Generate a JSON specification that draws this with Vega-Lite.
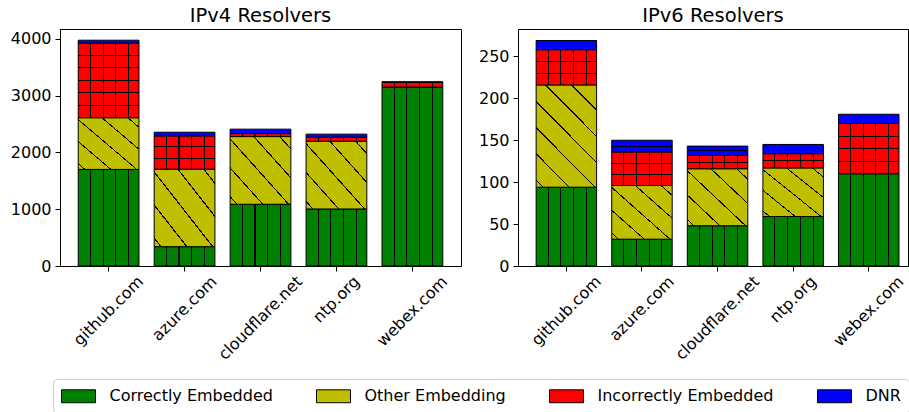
{
  "$schema": "https://vega.github.io/schema/vega-lite/v6.json",
  "background": "white",
  "padding": {"left": 9, "top": 5, "right": 0, "bottom": 0},
  "datasets": {
    "resolvers": [
      {"panel": "IPv4", "domain": "github.com", "category": "Correctly Embedded", "value": 1700},
      {"panel": "IPv4", "domain": "github.com", "category": "Other Embedding", "value": 910},
      {"panel": "IPv4", "domain": "github.com", "category": "Incorrectly Embedded", "value": 1315},
      {"panel": "IPv4", "domain": "github.com", "category": "DNR", "value": 50},
      {"panel": "IPv4", "domain": "azure.com", "category": "Correctly Embedded", "value": 340},
      {"panel": "IPv4", "domain": "azure.com", "category": "Other Embedding", "value": 1365},
      {"panel": "IPv4", "domain": "azure.com", "category": "Incorrectly Embedded", "value": 585},
      {"panel": "IPv4", "domain": "azure.com", "category": "DNR", "value": 65},
      {"panel": "IPv4", "domain": "cloudflare.net", "category": "Correctly Embedded", "value": 1087},
      {"panel": "IPv4", "domain": "cloudflare.net", "category": "Other Embedding", "value": 1191},
      {"panel": "IPv4", "domain": "cloudflare.net", "category": "Incorrectly Embedded", "value": 53},
      {"panel": "IPv4", "domain": "cloudflare.net", "category": "DNR", "value": 78},
      {"panel": "IPv4", "domain": "ntp.org", "category": "Correctly Embedded", "value": 1004},
      {"panel": "IPv4", "domain": "ntp.org", "category": "Other Embedding", "value": 1193},
      {"panel": "IPv4", "domain": "ntp.org", "category": "Incorrectly Embedded", "value": 71},
      {"panel": "IPv4", "domain": "ntp.org", "category": "DNR", "value": 53},
      {"panel": "IPv4", "domain": "webex.com", "category": "Correctly Embedded", "value": 3150},
      {"panel": "IPv4", "domain": "webex.com", "category": "Incorrectly Embedded", "value": 80},
      {"panel": "IPv4", "domain": "webex.com", "category": "DNR", "value": 15},
      {"panel": "IPv6", "domain": "github.com", "category": "Correctly Embedded", "value": 94},
      {"panel": "IPv6", "domain": "github.com", "category": "Other Embedding", "value": 122},
      {"panel": "IPv6", "domain": "github.com", "category": "Incorrectly Embedded", "value": 42},
      {"panel": "IPv6", "domain": "github.com", "category": "DNR", "value": 11},
      {"panel": "IPv6", "domain": "azure.com", "category": "Correctly Embedded", "value": 32},
      {"panel": "IPv6", "domain": "azure.com", "category": "Other Embedding", "value": 64},
      {"panel": "IPv6", "domain": "azure.com", "category": "Incorrectly Embedded", "value": 40},
      {"panel": "IPv6", "domain": "azure.com", "category": "DNR", "value": 14},
      {"panel": "IPv6", "domain": "cloudflare.net", "category": "Correctly Embedded", "value": 48},
      {"panel": "IPv6", "domain": "cloudflare.net", "category": "Other Embedding", "value": 68},
      {"panel": "IPv6", "domain": "cloudflare.net", "category": "Incorrectly Embedded", "value": 16},
      {"panel": "IPv6", "domain": "cloudflare.net", "category": "DNR", "value": 11},
      {"panel": "IPv6", "domain": "ntp.org", "category": "Correctly Embedded", "value": 59},
      {"panel": "IPv6", "domain": "ntp.org", "category": "Other Embedding", "value": 58},
      {"panel": "IPv6", "domain": "ntp.org", "category": "Incorrectly Embedded", "value": 17},
      {"panel": "IPv6", "domain": "ntp.org", "category": "DNR", "value": 11},
      {"panel": "IPv6", "domain": "webex.com", "category": "Correctly Embedded", "value": 110},
      {"panel": "IPv6", "domain": "webex.com", "category": "Incorrectly Embedded", "value": 60},
      {"panel": "IPv6", "domain": "webex.com", "category": "DNR", "value": 11}
    ],
    "ranks": [
      {"category": "Correctly Embedded", "rank": 1},
      {"category": "Other Embedding", "rank": 2},
      {"category": "Incorrectly Embedded", "rank": 3},
      {"category": "DNR", "rank": 4}
    ]
  },
  "data": {"name": "resolvers"},
  "transform": [
    {"lookup": "category", "from": {"data": {"name": "ranks"}, "key": "category", "fields": ["rank"]}}
  ],
  "bounds": "flush",
  "spacing": 57,
  "hconcat": [
    {
      "width": 401,
      "height": 237,
      "title": {"text": "IPv4 Resolvers"},
      "transform": [{"filter": "datum.panel === 'IPv4'"}],
      "encoding": {
        "x": {
          "field": "domain", "type": "nominal",
          "sort": ["github.com", "azure.com", "cloudflare.net", "ntp.org", "webex.com"],
          "scale": {"paddingInner": 0.2, "paddingOuter": 0.24},
          "axis": {
            "title": null, "labelAngle": -45, "labelAlign": "center", "labelBaseline": "middle",
            "tickSize": 5, "labelOverlap": false, "labelFlush": false,
            "labelPadding": {"condition": [
              {"test": "datum.value === 'github.com'", "value": 39.5},
              {"test": "datum.value === 'azure.com'", "value": 37.2},
              {"test": "datum.value === 'cloudflare.net'", "value": 46.7},
              {"test": "datum.value === 'ntp.org'", "value": 28}
            ], "value": 39.9}
          }
        },
        "y": {
          "field": "value", "type": "quantitative", "stack": "zero",
          "scale": {"domain": [0, 4172], "nice": false},
          "axis": {"title": null, "values": [0, 1000, 2000, 3000, 4000], "format": "d", "tickSize": 5, "labelPadding": 4}
        },
        "order": {"field": "rank", "type": "quantitative"}
      },
      "layer": [
        {
          "mark": {"type": "bar", "stroke": "black", "strokeWidth": 1},
          "encoding": {
            "fill": {
              "field": "category", "type": "nominal",
              "scale": {"domain": ["Correctly Embedded", "Other Embedding", "Incorrectly Embedded", "DNR"], "range": ["#008000", "#bfbf00", "#ff0000", "#0000ff"]},
              "legend": {"title": null, "orient": "none", "legendX": -7, "legendY": 350, "direction": "horizontal", "columns": 4, "columnPadding": 41, "symbolType": "M-2,-0.76H2V0.76H-2Z", "symbolSize": 289, "symbolOffset": 8.5, "symbolStrokeColor": "black", "symbolStrokeWidth": 1, "symbolOpacity": 1, "labelFontSize": 16, "labelFont": "DejaVu Sans", "labelColor": "black", "labelOffset": 22, "labelLimit": 300, "padding": 8, "strokeColor": "#cccccc", "fillColor": "white", "cornerRadius": 4},
              "condition": [
                {"test": "datum.category === 'Correctly Embedded'", "value": {"gradient": "linear", "x1": 0, "y1": 0, "x2": 1, "y2": 0, "stops": [{"offset": 0, "color": "#008000"}, {"offset": 0.19, "color": "#008000"}, {"offset": 0.19, "color": "#000000"}, {"offset": 0.208, "color": "#000000"}, {"offset": 0.208, "color": "#008000"}, {"offset": 0.4, "color": "#008000"}, {"offset": 0.4, "color": "#000000"}, {"offset": 0.418, "color": "#000000"}, {"offset": 0.418, "color": "#008000"}, {"offset": 0.61, "color": "#008000"}, {"offset": 0.61, "color": "#000000"}, {"offset": 0.628, "color": "#000000"}, {"offset": 0.628, "color": "#008000"}, {"offset": 0.82, "color": "#008000"}, {"offset": 0.82, "color": "#000000"}, {"offset": 0.838, "color": "#000000"}, {"offset": 0.838, "color": "#008000"}, {"offset": 1, "color": "#008000"}]}},
                {"test": "datum.category === 'Incorrectly Embedded'", "value": {"gradient": "linear", "x1": 0, "y1": 0, "x2": 1, "y2": 0, "stops": [{"offset": 0, "color": "#ff0000"}, {"offset": 0.19, "color": "#ff0000"}, {"offset": 0.19, "color": "#000000"}, {"offset": 0.208, "color": "#000000"}, {"offset": 0.208, "color": "#ff0000"}, {"offset": 0.4, "color": "#ff0000"}, {"offset": 0.4, "color": "#000000"}, {"offset": 0.418, "color": "#000000"}, {"offset": 0.418, "color": "#ff0000"}, {"offset": 0.61, "color": "#ff0000"}, {"offset": 0.61, "color": "#000000"}, {"offset": 0.628, "color": "#000000"}, {"offset": 0.628, "color": "#ff0000"}, {"offset": 0.82, "color": "#ff0000"}, {"offset": 0.82, "color": "#000000"}, {"offset": 0.838, "color": "#000000"}, {"offset": 0.838, "color": "#ff0000"}, {"offset": 1, "color": "#ff0000"}]}},
                {"test": "datum.category === 'Other Embedding'", "value": {"gradient": "linear", "x1": 0, "y1": 1, "x2": 1, "y2": 0, "stops": [{"offset": 0, "color": "#bfbf00"}, {"offset": 0.05, "color": "#bfbf00"}, {"offset": 0.05, "color": "#000000"}, {"offset": 0.062, "color": "#000000"}, {"offset": 0.062, "color": "#bfbf00"}, {"offset": 0.263, "color": "#bfbf00"}, {"offset": 0.263, "color": "#000000"}, {"offset": 0.275, "color": "#000000"}, {"offset": 0.275, "color": "#bfbf00"}, {"offset": 0.476, "color": "#bfbf00"}, {"offset": 0.476, "color": "#000000"}, {"offset": 0.488, "color": "#000000"}, {"offset": 0.488, "color": "#bfbf00"}, {"offset": 0.689, "color": "#bfbf00"}, {"offset": 0.689, "color": "#000000"}, {"offset": 0.701, "color": "#000000"}, {"offset": 0.701, "color": "#bfbf00"}, {"offset": 0.902, "color": "#bfbf00"}, {"offset": 0.902, "color": "#000000"}, {"offset": 0.914, "color": "#000000"}, {"offset": 0.914, "color": "#bfbf00"}, {"offset": 1, "color": "#bfbf00"}]}}
              ]
            }
          }
        },
        {
          "mark": {"type": "bar", "strokeWidth": 0},
          "encoding": {
            "detail": {"field": "category"},
            "fill": {
              "condition": [
                {"test": "datum.category === 'Incorrectly Embedded' && datum.value > 1000", "value": {"gradient": "linear", "x1": 0, "y1": 0, "x2": 0, "y2": 1, "stops": [{"offset": 0, "color": "rgba(0,0,0,0)"}, {"offset": 0.16, "color": "rgba(0,0,0,0)"}, {"offset": 0.16, "color": "#000000"}, {"offset": 0.174, "color": "#000000"}, {"offset": 0.174, "color": "rgba(0,0,0,0)"}, {"offset": 0.326, "color": "rgba(0,0,0,0)"}, {"offset": 0.326, "color": "#000000"}, {"offset": 0.34, "color": "#000000"}, {"offset": 0.34, "color": "rgba(0,0,0,0)"}, {"offset": 0.493, "color": "rgba(0,0,0,0)"}, {"offset": 0.493, "color": "#000000"}, {"offset": 0.507, "color": "#000000"}, {"offset": 0.507, "color": "rgba(0,0,0,0)"}, {"offset": 0.66, "color": "rgba(0,0,0,0)"}, {"offset": 0.66, "color": "#000000"}, {"offset": 0.674, "color": "#000000"}, {"offset": 0.674, "color": "rgba(0,0,0,0)"}, {"offset": 0.826, "color": "rgba(0,0,0,0)"}, {"offset": 0.826, "color": "#000000"}, {"offset": 0.84, "color": "#000000"}, {"offset": 0.84, "color": "rgba(0,0,0,0)"}, {"offset": 1, "color": "rgba(0,0,0,0)"}]}},
                {"test": "datum.category === 'Incorrectly Embedded' && datum.value > 300", "value": {"gradient": "linear", "x1": 0, "y1": 0, "x2": 0, "y2": 1, "stops": [{"offset": 0, "color": "rgba(0,0,0,0)"}, {"offset": 0.318, "color": "rgba(0,0,0,0)"}, {"offset": 0.318, "color": "#000000"}, {"offset": 0.348, "color": "#000000"}, {"offset": 0.348, "color": "rgba(0,0,0,0)"}, {"offset": 0.652, "color": "rgba(0,0,0,0)"}, {"offset": 0.652, "color": "#000000"}, {"offset": 0.682, "color": "#000000"}, {"offset": 0.682, "color": "rgba(0,0,0,0)"}, {"offset": 1, "color": "rgba(0,0,0,0)"}]}}
              ],
              "value": "transparent"
            }
          }
        }
      ]
    },
    {
      "width": 390,
      "height": 237,
      "title": {"text": "IPv6 Resolvers"},
      "transform": [{"filter": "datum.panel === 'IPv6'"}],
      "encoding": {
        "x": {
          "field": "domain", "type": "nominal",
          "sort": ["github.com", "azure.com", "cloudflare.net", "ntp.org", "webex.com"],
          "scale": {"paddingInner": 0.2, "paddingOuter": 0.1795, "align": 0.668},
          "axis": {
            "title": null, "labelAngle": -45, "labelAlign": "center", "labelBaseline": "middle",
            "tickSize": 5, "labelOverlap": false, "labelFlush": false,
            "labelPadding": {"condition": [
              {"test": "datum.value === 'github.com'", "value": 39.5},
              {"test": "datum.value === 'azure.com'", "value": 37.2},
              {"test": "datum.value === 'cloudflare.net'", "value": 46.7},
              {"test": "datum.value === 'ntp.org'", "value": 28}
            ], "value": 39.9}
          }
        },
        "y": {
          "field": "value", "type": "quantitative", "stack": "zero",
          "scale": {"domain": [0, 282.7], "nice": false},
          "axis": {"title": null, "values": [0, 50, 100, 150, 200, 250], "format": "d", "tickSize": 5, "labelPadding": 4}
        },
        "order": {"field": "rank", "type": "quantitative"}
      },
      "layer": [
        {
          "mark": {"type": "bar", "stroke": "black", "strokeWidth": 1},
          "encoding": {
            "fill": {
              "field": "category", "type": "nominal",
              "scale": {"domain": ["Correctly Embedded", "Other Embedding", "Incorrectly Embedded", "DNR"], "range": ["#008000", "#bfbf00", "#ff0000", "#0000ff"]},
              "legend": {"title": null, "orient": "none", "legendX": -7, "legendY": 350, "direction": "horizontal", "columns": 4, "columnPadding": 41, "symbolType": "M-2,-0.76H2V0.76H-2Z", "symbolSize": 289, "symbolOffset": 8.5, "symbolStrokeColor": "black", "symbolStrokeWidth": 1, "symbolOpacity": 1, "labelFontSize": 16, "labelFont": "DejaVu Sans", "labelColor": "black", "labelOffset": 22, "labelLimit": 300, "padding": 8, "strokeColor": "#cccccc", "fillColor": "white", "cornerRadius": 4},
              "condition": [
                {"test": "datum.category === 'Correctly Embedded'", "value": {"gradient": "linear", "x1": 0, "y1": 0, "x2": 1, "y2": 0, "stops": [{"offset": 0, "color": "#008000"}, {"offset": 0.19, "color": "#008000"}, {"offset": 0.19, "color": "#000000"}, {"offset": 0.208, "color": "#000000"}, {"offset": 0.208, "color": "#008000"}, {"offset": 0.4, "color": "#008000"}, {"offset": 0.4, "color": "#000000"}, {"offset": 0.418, "color": "#000000"}, {"offset": 0.418, "color": "#008000"}, {"offset": 0.61, "color": "#008000"}, {"offset": 0.61, "color": "#000000"}, {"offset": 0.628, "color": "#000000"}, {"offset": 0.628, "color": "#008000"}, {"offset": 0.82, "color": "#008000"}, {"offset": 0.82, "color": "#000000"}, {"offset": 0.838, "color": "#000000"}, {"offset": 0.838, "color": "#008000"}, {"offset": 1, "color": "#008000"}]}},
                {"test": "datum.category === 'Incorrectly Embedded'", "value": {"gradient": "linear", "x1": 0, "y1": 0, "x2": 1, "y2": 0, "stops": [{"offset": 0, "color": "#ff0000"}, {"offset": 0.19, "color": "#ff0000"}, {"offset": 0.19, "color": "#000000"}, {"offset": 0.208, "color": "#000000"}, {"offset": 0.208, "color": "#ff0000"}, {"offset": 0.4, "color": "#ff0000"}, {"offset": 0.4, "color": "#000000"}, {"offset": 0.418, "color": "#000000"}, {"offset": 0.418, "color": "#ff0000"}, {"offset": 0.61, "color": "#ff0000"}, {"offset": 0.61, "color": "#000000"}, {"offset": 0.628, "color": "#000000"}, {"offset": 0.628, "color": "#ff0000"}, {"offset": 0.82, "color": "#ff0000"}, {"offset": 0.82, "color": "#000000"}, {"offset": 0.838, "color": "#000000"}, {"offset": 0.838, "color": "#ff0000"}, {"offset": 1, "color": "#ff0000"}]}},
                {"test": "datum.category === 'Other Embedding' && datum.value > 100", "value": {"gradient": "linear", "x1": 0, "y1": 1, "x2": 0.704, "y2": -0.177, "stops": [{"offset": 0, "color": "#bfbf00"}, {"offset": 0.04, "color": "#bfbf00"}, {"offset": 0.04, "color": "#000000"}, {"offset": 0.049, "color": "#000000"}, {"offset": 0.049, "color": "#bfbf00"}, {"offset": 0.2, "color": "#bfbf00"}, {"offset": 0.2, "color": "#000000"}, {"offset": 0.209, "color": "#000000"}, {"offset": 0.209, "color": "#bfbf00"}, {"offset": 0.36, "color": "#bfbf00"}, {"offset": 0.36, "color": "#000000"}, {"offset": 0.369, "color": "#000000"}, {"offset": 0.369, "color": "#bfbf00"}, {"offset": 0.52, "color": "#bfbf00"}, {"offset": 0.52, "color": "#000000"}, {"offset": 0.529, "color": "#000000"}, {"offset": 0.529, "color": "#bfbf00"}, {"offset": 0.68, "color": "#bfbf00"}, {"offset": 0.68, "color": "#000000"}, {"offset": 0.689, "color": "#000000"}, {"offset": 0.689, "color": "#bfbf00"}, {"offset": 0.84, "color": "#bfbf00"}, {"offset": 0.84, "color": "#000000"}, {"offset": 0.849, "color": "#000000"}, {"offset": 0.849, "color": "#bfbf00"}, {"offset": 1, "color": "#bfbf00"}]}},
                {"test": "datum.category === 'Other Embedding'", "value": {"gradient": "linear", "x1": 0, "y1": 1, "x2": 1, "y2": 0, "stops": [{"offset": 0, "color": "#bfbf00"}, {"offset": 0.05, "color": "#bfbf00"}, {"offset": 0.05, "color": "#000000"}, {"offset": 0.062, "color": "#000000"}, {"offset": 0.062, "color": "#bfbf00"}, {"offset": 0.263, "color": "#bfbf00"}, {"offset": 0.263, "color": "#000000"}, {"offset": 0.275, "color": "#000000"}, {"offset": 0.275, "color": "#bfbf00"}, {"offset": 0.476, "color": "#bfbf00"}, {"offset": 0.476, "color": "#000000"}, {"offset": 0.488, "color": "#000000"}, {"offset": 0.488, "color": "#bfbf00"}, {"offset": 0.689, "color": "#bfbf00"}, {"offset": 0.689, "color": "#000000"}, {"offset": 0.701, "color": "#000000"}, {"offset": 0.701, "color": "#bfbf00"}, {"offset": 0.902, "color": "#bfbf00"}, {"offset": 0.902, "color": "#000000"}, {"offset": 0.914, "color": "#000000"}, {"offset": 0.914, "color": "#bfbf00"}, {"offset": 1, "color": "#bfbf00"}]}},
                {"test": "datum.category === 'DNR'", "value": {"gradient": "linear", "x1": 0, "y1": 0, "x2": 0, "y2": 1, "stops": [{"offset": 0, "color": "#0000ff"}, {"offset": 0.46, "color": "#0000ff"}, {"offset": 0.46, "color": "#000000"}, {"offset": 0.54, "color": "#000000"}, {"offset": 0.54, "color": "#0000ff"}, {"offset": 1, "color": "#0000ff"}]}}
              ]
            }
          }
        },
        {
          "mark": {"type": "bar", "strokeWidth": 0},
          "encoding": {
            "detail": {"field": "category"},
            "fill": {
              "condition": [
                {"test": "datum.category === 'Incorrectly Embedded' && datum.value > 50", "value": {"gradient": "linear", "x1": 0, "y1": 0, "x2": 0, "y2": 1, "stops": [{"offset": 0, "color": "rgba(0,0,0,0)"}, {"offset": 0.24, "color": "rgba(0,0,0,0)"}, {"offset": 0.24, "color": "#000000"}, {"offset": 0.26, "color": "#000000"}, {"offset": 0.26, "color": "rgba(0,0,0,0)"}, {"offset": 0.49, "color": "rgba(0,0,0,0)"}, {"offset": 0.49, "color": "#000000"}, {"offset": 0.51, "color": "#000000"}, {"offset": 0.51, "color": "rgba(0,0,0,0)"}, {"offset": 0.74, "color": "rgba(0,0,0,0)"}, {"offset": 0.74, "color": "#000000"}, {"offset": 0.76, "color": "#000000"}, {"offset": 0.76, "color": "rgba(0,0,0,0)"}, {"offset": 1, "color": "rgba(0,0,0,0)"}]}},
                {"test": "datum.category === 'Incorrectly Embedded' && datum.value > 30", "value": {"gradient": "linear", "x1": 0, "y1": 0, "x2": 0, "y2": 1, "stops": [{"offset": 0, "color": "rgba(0,0,0,0)"}, {"offset": 0.318, "color": "rgba(0,0,0,0)"}, {"offset": 0.318, "color": "#000000"}, {"offset": 0.348, "color": "#000000"}, {"offset": 0.348, "color": "rgba(0,0,0,0)"}, {"offset": 0.652, "color": "rgba(0,0,0,0)"}, {"offset": 0.652, "color": "#000000"}, {"offset": 0.682, "color": "#000000"}, {"offset": 0.682, "color": "rgba(0,0,0,0)"}, {"offset": 1, "color": "rgba(0,0,0,0)"}]}},
                {"test": "datum.category === 'Incorrectly Embedded'", "value": {"gradient": "linear", "x1": 0, "y1": 0, "x2": 0, "y2": 1, "stops": [{"offset": 0, "color": "rgba(0,0,0,0)"}, {"offset": 0.465, "color": "rgba(0,0,0,0)"}, {"offset": 0.465, "color": "#000000"}, {"offset": 0.535, "color": "#000000"}, {"offset": 0.535, "color": "rgba(0,0,0,0)"}, {"offset": 1, "color": "rgba(0,0,0,0)"}]}}
              ],
              "value": "transparent"
            }
          }
        }
      ]
    }
  ],
  "config": {
    "view": {"stroke": "black", "strokeWidth": 1},
    "axis": {"labelFont": "DejaVu Sans", "labelFontSize": 16, "labelColor": "black", "tickColor": "black", "domainColor": "black", "tickWidth": 1, "domainWidth": 1, "grid": false},
    "title": {"font": "DejaVu Sans", "fontSize": 19.5, "fontWeight": "normal", "color": "black", "offset": 3}
  }
}
